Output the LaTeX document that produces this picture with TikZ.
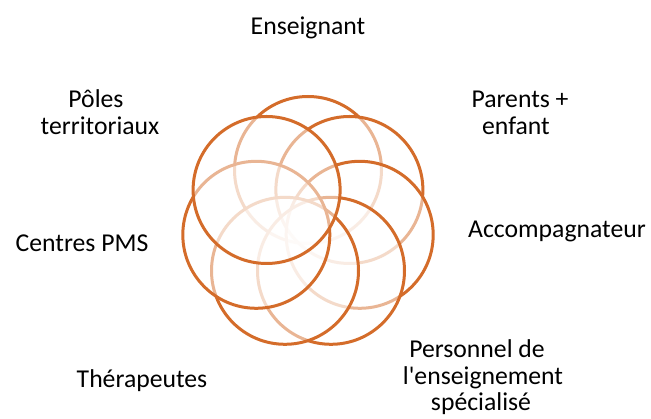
\documentclass[tikz,border=0pt]{standalone}
\usepackage{fontspec}
\setmainfont{Carlito}
\definecolor{ringorange}{RGB}{212,108,42}
\begin{document}
\begin{tikzpicture}[x=1pt,y=-1pt,
  ring/.style={circle,draw=ringorange,line width=3pt,fill=white,fill opacity=0.5,
    draw opacity=1,minimum size=147pt,inner sep=0pt},
  lbl/.style={anchor=base,inner sep=0pt,font=\fontsize{25.7}{27}\selectfont,text=black}]
\useasboundingbox (0,0) rectangle (651,419);
% rings, drawn clockwise from the top; later ones wash out earlier strokes
\node[ring] (r1) at (308,170) {};
\node[ring] (r2) at (349.4,190) {};
\node[ring] (r3) at (359.7,234.8) {};
\node[ring] (r4) at (331,270.8) {};
\node[ring] (r5) at (285,270.8) {};
\node[ring] (r6) at (256.3,234.8) {};
\node[ring] (r7) at (266.6,190) {};
% labels
\node[lbl] (enseignant) at (308,35) {Enseignant};
\node[lbl] (parentsA) at (520,108) {Parents +};
\node[lbl] (parentsB) at (516,135) {enfant};
\node[lbl] (accomp) at (557,238) {Accompagnateur};
\node[lbl] (persA) at (477,358) {Personnel de};
\node[lbl] (persB) at (483,384.5) {l\textquotesingle enseignement};
\node[lbl] (persC) at (481,411) {spécialisé};
\node[lbl] (therap) at (142,388) {Thérapeutes};
\node[lbl] (pms) at (82,252) {Centres PMS};
\node[lbl] (polesA) at (96,108) {Pôles};
\node[lbl] (polesB) at (100,135) {territoriaux};
\end{tikzpicture}
\end{document}
